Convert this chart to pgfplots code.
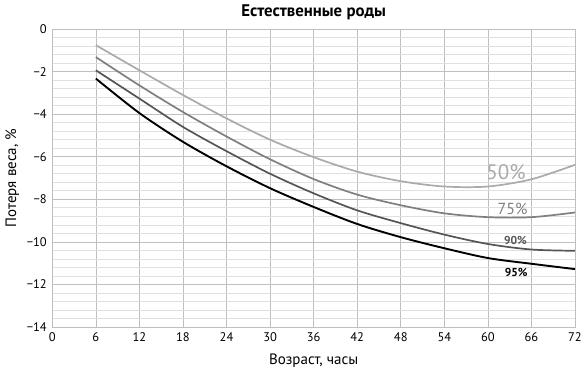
\documentclass[border=0pt]{standalone}
\usepackage{pgfplots}
\pgfplotsset{compat=1.18}
\usepackage{fontspec}
\setmainfont{PT Sans}
\definecolor{c50}{HTML}{AAAAAA}
\definecolor{c75}{HTML}{7F7F7F}
\definecolor{c90}{HTML}{555555}
\definecolor{c95}{HTML}{000000}
\begin{document}
\begin{tikzpicture}
\useasboundingbox (0,0) rectangle (587bp,376bp);
\begin{axis}[
  name=main,
  at={(52.3bp,49bp)}, anchor=south west,
  scale only axis, width=522.7bp, height=298bp,
  xmin=0, xmax=72, ymin=-14, ymax=0,
  xtick={0,6,...,72},
  ytick={-14,-12,...,0},
  yticklabels={−14,−12,−10,−8,−6,−4,−2,0},
  minor y tick num=4,
  grid=both,
  major grid style={draw=black!25, line width=0.6bp},
  minor grid style={draw=black!12, line width=0.6bp},
  axis line style={draw=black!25, line width=0.6bp},
  major tick length=0pt, minor tick length=0pt,
  tick label style={font=\fontsize{12.5bp}{14bp}\selectfont, text=black},
  /pgf/number format/assume math mode=true,
  xticklabel style={yshift=-2bp},
  yticklabel style={xshift=-2bp},
  xlabel={\fontsize{15bp}{17bp}\selectfont Возраст, часы},
  xlabel style={at={([yshift=-34bp]axis description cs:0.5,0)}, anchor=center},
  ylabel={\fontsize{15bp}{17bp}\selectfont Потеря веса, \%},
  ylabel style={at={([xshift=-40bp]axis description cs:0,0.5)}, anchor=center},
  clip=false,
]
\addplot[c50, line width=1.7bp, smooth] coordinates {
(6,-0.76) (12,-1.94) (18,-3.10) (24,-4.20) (30,-5.20) (36,-6.02) (42,-6.70) (48,-7.15) (54,-7.40) (60,-7.40) (66,-7.06) (72,-6.38)};
\addplot[c75, line width=1.7bp, smooth] coordinates {
(6,-1.32) (12,-2.65) (18,-3.90) (24,-5.05) (30,-6.12) (36,-7.05) (42,-7.78) (48,-8.28) (54,-8.66) (60,-8.84) (66,-8.84) (72,-8.62)};
\addplot[c90, line width=1.7bp, smooth] coordinates {
(6,-1.94) (12,-3.27) (18,-4.60) (24,-5.74) (30,-6.80) (36,-7.72) (42,-8.52) (48,-9.12) (54,-9.66) (60,-10.10) (66,-10.36) (72,-10.42)};
\addplot[c95, line width=1.9bp, smooth] coordinates {
(6,-2.33) (12,-3.95) (18,-5.30) (24,-6.45) (30,-7.48) (36,-8.36) (42,-9.16) (48,-9.78) (54,-10.30) (60,-10.76) (66,-11.03) (72,-11.28)};
\node[text=c50, font=\fontsize{21bp}{23bp}\selectfont] at (axis cs:62.5,-6.71) {50\%};
\node[text=c75, font=\fontsize{16bp}{18bp}\selectfont] at (axis cs:63.4,-8.45) {75\%};
\node[text=c90, font=\fontsize{11.5bp}{13bp}\selectfont\bfseries] at (axis cs:63.8,-9.95) {90\%};
\node[text=c95, font=\fontsize{11.5bp}{13bp}\selectfont\bfseries] at (axis cs:63.9,-11.46) {95\%};
\end{axis}
\node[font=\fontsize{16.8bp}{19bp}\selectfont\bfseries, anchor=center] at ([yshift=17bp]main.north) {Естественные роды};
\end{tikzpicture}
\end{document}
